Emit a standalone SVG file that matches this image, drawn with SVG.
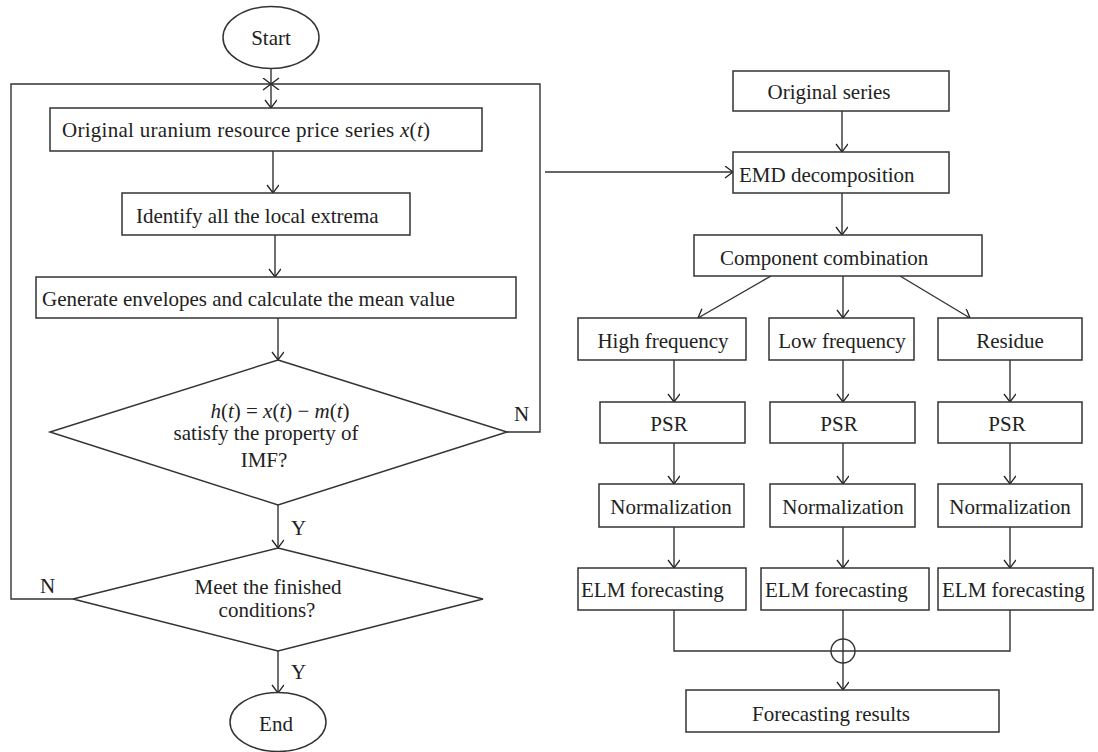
<svg xmlns="http://www.w3.org/2000/svg" width="1098" height="752" viewBox="0 0 1098 752">
<defs>
<marker id="arr" markerUnits="userSpaceOnUse" markerWidth="16" markerHeight="16" refX="9" refY="6" orient="auto">
<path d="M1,0 L9,6 L1,12" fill="none" stroke="#222" stroke-width="1.3"/>
</marker>
<style>
.b{fill:#fff;stroke:#333;stroke-width:1.5}
.l{fill:none;stroke:#333;stroke-width:1.4}
text{font-family:"Liberation Serif","Times New Roman",serif;font-size:21px;fill:#222}
.c{text-anchor:middle}
.i{font-style:italic}
</style>
</defs>
<rect width="1098" height="752" fill="#fff"/>
<g id="connectors">
<path class="l" d="M73,599 H11 V84 H271" marker-end="url(#arr)"/>
<path class="l" d="M507,432 H540 V84 H271" marker-end="url(#arr)"/>
<path class="l" d="M271,69 V108" marker-end="url(#arr)"/>
<path class="l" d="M273,151 V193" marker-end="url(#arr)"/>
<path class="l" d="M275,235 V277" marker-end="url(#arr)"/>
<path class="l" d="M278,318 V360" marker-end="url(#arr)"/>
<path class="l" d="M278,505 V548" marker-end="url(#arr)"/>
<path class="l" d="M278,651 V693" marker-end="url(#arr)"/>
<path class="l" d="M545,172 H733" marker-end="url(#arr)"/>
<path class="l" d="M842,111 V152" marker-end="url(#arr)"/>
<path class="l" d="M842,193 V235" marker-end="url(#arr)"/>
<path class="l" d="M771,276 L698,318" marker-end="url(#arr)"/>
<path class="l" d="M843,276 V318" marker-end="url(#arr)"/>
<path class="l" d="M900,276 L970,318" marker-end="url(#arr)"/>
<path class="l" d="M674,360 V402" marker-end="url(#arr)"/>
<path class="l" d="M843,360 V402" marker-end="url(#arr)"/>
<path class="l" d="M1010,360 V402" marker-end="url(#arr)"/>
<path class="l" d="M674,443 V484" marker-end="url(#arr)"/>
<path class="l" d="M843,443 V484" marker-end="url(#arr)"/>
<path class="l" d="M1010,443 V484" marker-end="url(#arr)"/>
<path class="l" d="M674,527 V568" marker-end="url(#arr)"/>
<path class="l" d="M843,527 V568" marker-end="url(#arr)"/>
<path class="l" d="M1010,527 V568" marker-end="url(#arr)"/>
<path class="l" d="M674,610 V651 H1010 V610"/>
<path class="l" d="M843,610 V690" marker-end="url(#arr)"/>
<circle class="l" cx="843" cy="651" r="12"/>
</g>
<g id="start"><ellipse class="b" cx="271" cy="37.5" rx="48" ry="31"/><text class="c" x="271" y="45">Start</text></g>
<g id="orig-uranium"><rect class="b" x="50" y="108" width="432" height="43"/><text x="62" y="137" textLength="368" lengthAdjust="spacing">Original uranium resource price series <tspan class="i">x</tspan>(<tspan class="i">t</tspan>)</text></g>
<g id="identify"><rect class="b" x="122" y="193" width="288" height="42"/><text x="136" y="223">Identify all the local extrema</text></g>
<g id="envelopes"><rect class="b" x="36" y="277" width="480" height="41"/><text x="42" y="306">Generate envelopes and calculate the mean value</text></g>
<g id="imf-check"><path class="b" d="M278,360 L507,432 L278,505 L50,432 Z"/>
<text class="c" x="280" y="418"><tspan class="i">h</tspan>(<tspan class="i">t</tspan>) = <tspan class="i">x</tspan>(<tspan class="i">t</tspan>) − <tspan class="i">m</tspan>(<tspan class="i">t</tspan>)</text>
<text class="c" x="266" y="440">satisfy the property of</text>
<text class="c" x="264" y="467">IMF?</text>
<text x="514" y="421">N</text></g>
<g id="finished-check"><path class="b" d="M278,548 L483,599 L278,651 L73,599 Z"/>
<text class="c" x="268" y="594">Meet the finished</text>
<text class="c" x="267" y="617">conditions?</text>
<text x="291" y="535">Y</text>
<text x="40" y="593">N</text>
<text x="291" y="679">Y</text></g>
<g id="end"><ellipse class="b" cx="278" cy="722" rx="48" ry="29.5"/><text class="c" x="276" y="731">End</text></g>
<g id="orig-series"><rect class="b" x="733" y="71" width="216" height="40"/><text class="c" x="829" y="99">Original series</text></g>
<g id="emd"><rect class="b" x="733" y="152" width="216" height="41"/><text x="739" y="182">EMD decomposition</text></g>
<g id="combination"><rect class="b" x="694" y="235" width="288" height="41"/><text x="720" y="265">Component combination</text></g>
<g id="high"><rect class="b" x="578" y="318" width="168" height="42"/><text class="c" x="663" y="348">High frequency</text></g>
<g id="low"><rect class="b" x="769" y="318" width="145" height="42"/><text class="c" x="842" y="348">Low frequency</text></g>
<g id="residue"><rect class="b" x="938" y="318" width="144" height="42"/><text class="c" x="1010" y="348">Residue</text></g>
<g id="psr1"><rect class="b" x="600" y="402" width="145" height="41"/><text class="c" x="669" y="431">PSR</text></g>
<g id="psr2"><rect class="b" x="770" y="402" width="145" height="41"/><text class="c" x="839" y="431">PSR</text></g>
<g id="psr3"><rect class="b" x="938" y="402" width="144" height="41"/><text class="c" x="1007" y="431">PSR</text></g>
<g id="norm1"><rect class="b" x="599" y="484" width="145" height="43"/><text class="c" x="671" y="514">Normalization</text></g>
<g id="norm2"><rect class="b" x="770" y="484" width="145" height="43"/><text class="c" x="843" y="514">Normalization</text></g>
<g id="norm3"><rect class="b" x="938" y="484" width="144" height="43"/><text class="c" x="1010" y="514">Normalization</text></g>
<g id="elm1"><rect class="b" x="578" y="568" width="168" height="42"/><text x="581" y="597">ELM forecasting</text></g>
<g id="elm2"><rect class="b" x="761" y="568" width="168" height="42"/><text x="765" y="597">ELM forecasting</text></g>
<g id="elm3"><rect class="b" x="938" y="568" width="155" height="42"/><text x="942" y="597">ELM forecasting</text></g>
<g id="results"><rect class="b" x="686" y="690" width="313" height="42"/><text class="c" x="831" y="721">Forecasting results</text></g>
</svg>
